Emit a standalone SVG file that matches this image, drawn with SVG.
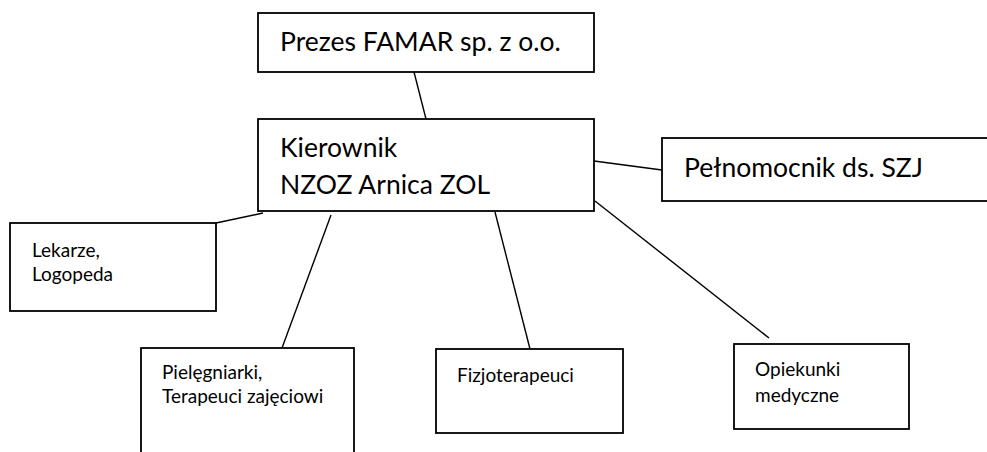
<svg xmlns="http://www.w3.org/2000/svg" width="987" height="452" viewBox="0 0 987 452">
<style>
.box{fill:#fff;stroke:#000;stroke-width:1.8}
.ln{stroke:#000;stroke-width:1.4;fill:none}
.big{font-family:Lato,"Liberation Sans",sans-serif;font-size:26.5px;fill:#000}
.sm{font-family:Lato,"Liberation Sans",sans-serif;font-size:19px;fill:#000}
</style>
<rect width="987" height="452" fill="#fff"/>
<g id="connectors">
<line class="ln" x1="414" y1="72" x2="426" y2="119"/>
<line class="ln" x1="594" y1="161" x2="662" y2="170"/>
<line class="ln" x1="216" y1="223" x2="263" y2="213"/>
<line class="ln" x1="331" y1="215" x2="282" y2="348"/>
<line class="ln" x1="495" y1="212" x2="530" y2="349"/>
<line class="ln" x1="595" y1="201" x2="769" y2="338"/>
</g>
<g id="prezes">
<rect class="box" x="258" y="13" width="336" height="59"/>
<text class="big" x="280" y="51">Prezes FAMAR sp. z o.o.</text>
</g>
<g id="kierownik">
<rect class="box" x="258" y="119" width="336" height="92"/>
<text class="big" x="280" y="157">Kierownik</text>
<text class="big" x="280" y="194">NZOZ Arnica ZOL</text>
</g>
<g id="pelnomocnik">
<rect class="box" x="662" y="138" width="340" height="63"/>
<text class="big" x="684" y="177">Pełnomocnik ds. SZJ</text>
</g>
<g id="lekarze">
<rect class="box" x="10" y="223" width="206" height="88"/>
<text class="sm" x="32" y="257">Lekarze,</text>
<text class="sm" x="32" y="281">Logopeda</text>
</g>
<g id="pielegniarki">
<rect class="box" x="141" y="348" width="213" height="120"/>
<text class="sm" x="162" y="379">Pielęgniarki,</text>
<text class="sm" x="162" y="403">Terapeuci zajęciowi</text>
</g>
<g id="fizjoterapeuci">
<rect class="box" x="436" y="349" width="187" height="84"/>
<text class="sm" x="457" y="382">Fizjoterapeuci</text>
</g>
<g id="opiekunki">
<rect class="box" x="734" y="344" width="175" height="85"/>
<text class="sm" x="755" y="376">Opiekunki</text>
<text class="sm" x="755" y="402">medyczne</text>
</g>
</svg>
